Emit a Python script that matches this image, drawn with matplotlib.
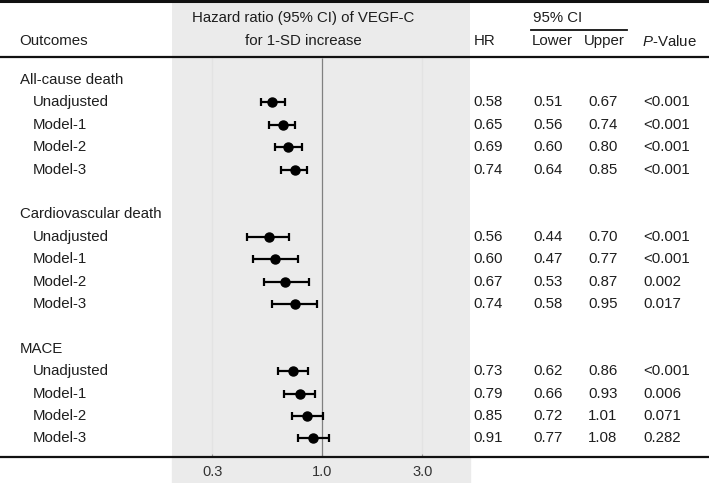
import numpy as np
import matplotlib
matplotlib.use("Agg")
import matplotlib.pyplot as plt
from matplotlib.patches import Rectangle

plt.rcParams['font.family'] = 'Liberation Sans'
plt.rcParams['font.size'] = 10.8
plt.rcParams['mathtext.fontset'] = 'custom'
plt.rcParams['mathtext.rm'] = 'Liberation Sans'
plt.rcParams['mathtext.it'] = 'Liberation Sans:italic'

# data
outcomes = ["All-cause death", "Cardiovascular death", "MACE"]
models = ["Unadjusted", "Model-1", "Model-2", "Model-3"]
hr = [[0.58, 0.65, 0.69, 0.74],
      [0.56, 0.60, 0.67, 0.74],
      [0.73, 0.79, 0.85, 0.91]]
lower = [[0.51, 0.56, 0.60, 0.64],
         [0.44, 0.47, 0.53, 0.58],
         [0.62, 0.66, 0.72, 0.77]]
upper = [[0.67, 0.74, 0.80, 0.85],
         [0.70, 0.77, 0.87, 0.95],
         [0.86, 0.93, 1.01, 1.08]]
pval = [["<0.001", "<0.001", "<0.001", "<0.001"],
        ["<0.001", "<0.001", "0.002", "0.017"],
        ["<0.001", "0.006", "0.071", "0.282"]]
xticks = [0.3, 1.0, 3.0]
xticklabels = ["0.3", "1.0", "3.0"]

W, H = 709, 483
bg = '#ebebeb'
txt = '#1e1e1e'

# row geometry (pixels -> row index)
row0, step = 80, 22.4
def ri(py):
    return (py - row0) / step

fig = plt.figure(figsize=(W / 100, H / 100), dpi=100)

# grey strip below the axis line (behind everything)
fig.patches.append(Rectangle((172 / W, 0), (470 - 172) / W, (H - 457) / H,
                             transform=fig.transFigure, color=bg, zorder=-5))

# forest panel
gx0, gx1, gbot = 172, 470, 457
ax = fig.add_axes([gx0 / W, (H - gbot) / H, (gx1 - gx0) / W, gbot / H])
ax.set_facecolor(bg)
ax.set_xscale('log')
ax.set_xlim(0.193, 5.07)
ax.set_ylim(ri(gbot), ri(0))
for s in ax.spines.values():
    s.set_visible(False)
ax.set_yticks([])
ax.set_xticks(xticks)
ax.set_xticklabels(xticklabels, color='#333333')
ax.xaxis.set_minor_locator(matplotlib.ticker.NullLocator())
ax.tick_params(axis='x', direction='in', length=2.5, width=0.8,
               color='#999999', pad=6, labelsize=10.5)
ax.vlines([0.3, 3.0], ri(58), ri(gbot), color='#e3e3e3', lw=0.9, zorder=1)
ax.vlines(1.0, ri(58), ri(gbot), color='#808080', lw=0.9, zorder=2)

ys, hs, los, his = [], [], [], []
for g in range(len(outcomes)):
    for j in range(len(models)):
        ys.append(6 * g + 1 + j)
        hs.append(hr[g][j])
        los.append(lower[g][j])
        his.append(upper[g][j])
hs, los, his = np.array(hs), np.array(los), np.array(his)
ax.errorbar(hs, ys, xerr=[hs - los, his - hs], fmt='o', color='black',
            ms=6.5, elinewidth=1.6, capsize=3, capthick=1.6, zorder=3)

# table overlay
tab = fig.add_axes([0, 0, 1, 1])
tab.patch.set_alpha(0)
tab.axis('off')
tab.set_xlim(0, W)
tab.set_ylim(ri(H), ri(0))

tab.axhline(ri(1.2), color='#111111', lw=2.2)
tab.axhline(ri(57), color='#111111', lw=1.6)
tab.axhline(ri(gbot), color='#111111', lw=1.6)
tab.plot([531, 627], [ri(30), ri(30)], color='#111111', lw=1.3)

h1, h2 = ri(18), ri(41)
tab.text(303, h1, "Hazard ratio (95% CI) of VEGF-C", ha='center', va='center', color=txt)
tab.text(303, h2, "for 1-SD increase", ha='center', va='center', color=txt)
tab.text(19, h2, "Outcomes", ha='left', va='center', color=txt)
tab.text(474, h2, "HR", ha='left', va='center', color=txt)
tab.text(533, h1, "95% CI", ha='left', va='center', color=txt)
tab.text(532, h2, "Lower", ha='left', va='center', color=txt)
tab.text(584, h2, "Upper", ha='left', va='center', color=txt)
tab.text(642, h2, "$P$-Value", ha='left', va='center', color=txt)

for g, name in enumerate(outcomes):
    tab.text(20, 6 * g, name, ha='left', va='center', color=txt)
    for j, m in enumerate(models):
        y = 6 * g + 1 + j
        tab.text(33, y, m, ha='left', va='center', color=txt)
        tab.text(473, y, "%.2f" % hr[g][j], ha='left', va='center', color=txt)
        tab.text(533, y, "%.2f" % lower[g][j], ha='left', va='center', color=txt)
        tab.text(588, y, "%.2f" % upper[g][j], ha='left', va='center', color=txt)
        tab.text(643, y, pval[g][j], ha='left', va='center', color=txt)

fig.savefig("out.png", dpi=100)
